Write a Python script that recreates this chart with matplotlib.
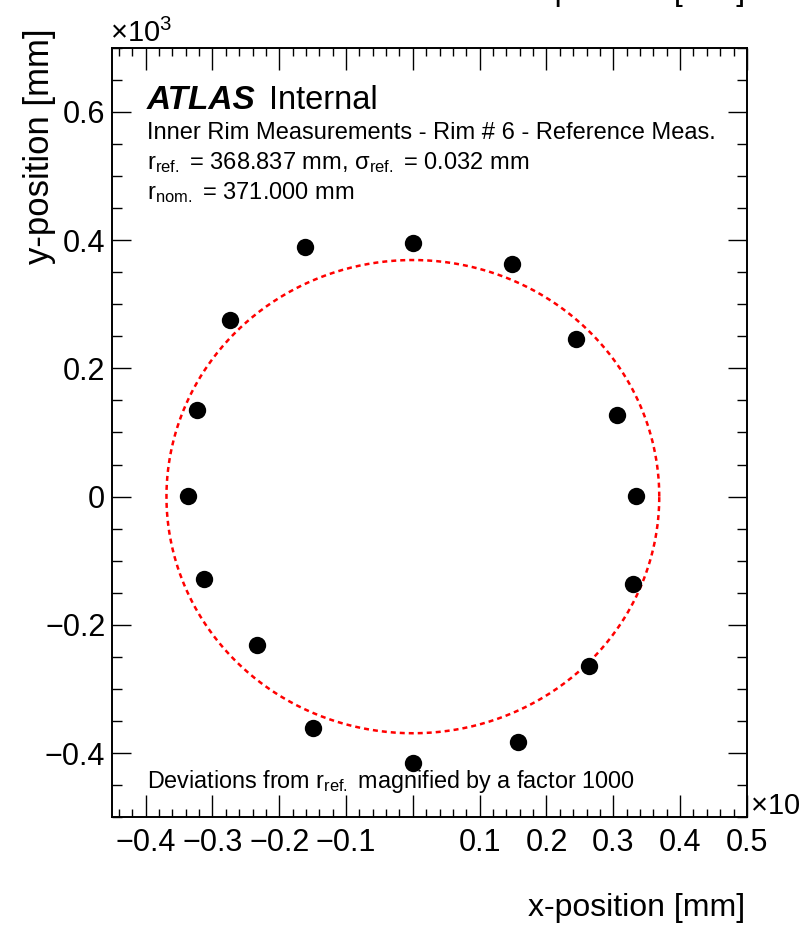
import numpy as np
import matplotlib
matplotlib.use('Agg')
import matplotlib.pyplot as plt
from matplotlib.ticker import MultipleLocator, FuncFormatter

plt.rcParams['font.family'] = ['Liberation Sans', 'DejaVu Sans']
plt.rcParams['mathtext.default'] = 'regular'

# measured rim points, deviations from r_ref magnified x1000 [mm]
x_pts = [0.3, 149, 244, 306, 334, 330, 263, 158, 0.3, -150, -233, -313, -336, -323, -274, -161]
y_pts = [396, 362, 246, 128, 1, -136, -264, -383, -415, -360, -232, -128, 1, 135, 275, 389]

r_ref = 368.837  # mm
sig_ref = 0.032
r_nom = 371.000

W, H = 800, 926

def px(x, y):
    return x / W, 1 - y / H

fig = plt.figure(figsize=(W / 100, H / 100), dpi=100)
ax = fig.add_axes([0.1403, 0.1173, 0.7933, 0.8313])

t = np.linspace(0, 2 * np.pi, 721)
ax.plot(r_ref * np.cos(t) / 1000, r_ref * np.sin(t) / 1000, color='red', lw=1.8,
        ls=(0, (2.0, 1.6)))
ax.plot(np.array(x_pts) / 1000, np.array(y_pts) / 1000, 'o', color='black',
        markersize=12.5, markeredgewidth=0)

ax.set_xlim(-0.45, 0.5)
ax.set_ylim(-0.5, 0.7)

def fmt(v, pos, skip_zero=False):
    if abs(v) < 1e-9:
        return '' if skip_zero else '0'
    s = '%g' % round(v, 3)
    return s.replace('-', '\u2212')

ax.xaxis.set_major_locator(MultipleLocator(0.1))
ax.xaxis.set_minor_locator(MultipleLocator(0.02))
ax.yaxis.set_major_locator(MultipleLocator(0.2))
ax.yaxis.set_minor_locator(MultipleLocator(0.05))
ax.xaxis.set_major_formatter(FuncFormatter(lambda v, p: fmt(v, p, True)))
ax.yaxis.set_major_formatter(FuncFormatter(lambda v, p: fmt(v, p)))

ax.tick_params(which='both', direction='in', top=True, right=True, labelsize=22, width=1.0)
ax.tick_params(axis='x', which='major', length=16, pad=8)
ax.tick_params(axis='x', which='minor', length=6)
ax.tick_params(axis='y', which='major', length=14, pad=5)
ax.tick_params(axis='y', which='minor', length=7)
for s in ax.spines.values():
    s.set_linewidth(1.4)

# axis titles and exponents, ROOT style
fig.text(*px(40, 28), 'y-position [mm]', rotation=90, ha='center', va='top', fontsize=25)
fig.text(*px(745, 908), 'x-position [mm]', ha='right', va='center', fontsize=23)
fig.text(*px(745, 0), 'x-position [mm]', ha='right', va='baseline', fontsize=23)
fig.text(*px(110, 42), '\u00d710$^{3}$', ha='left', va='baseline', fontsize=21)
fig.text(*px(750, 815), '\u00d710$^{3}$', ha='left', va='baseline', fontsize=21)

fig.text(*px(147, 109), 'ATLAS', fontsize=24, fontweight='bold', fontstyle='italic',
         va='baseline')
fig.text(*px(269, 109), 'Internal', fontsize=23.5, va='baseline')
fig.text(*px(147, 139), 'Inner Rim Measurements - Rim # 6 - Reference Meas.',
         fontsize=17, va='baseline')
fig.text(*px(147, 169), 'r$_{ref.}$ = %.3f mm, \u03c3$_{ref.}$ = %.3f mm' % (r_ref, sig_ref),
         fontsize=17, va='baseline')
fig.text(*px(147, 199), 'r$_{nom.}$ = %.3f mm' % r_nom, fontsize=17, va='baseline')
fig.text(*px(147, 788), 'Deviations from r$_{ref.}$ magnified by a factor 1000',
         fontsize=16.8, va='baseline')

plt.savefig('out.png', dpi=100)
